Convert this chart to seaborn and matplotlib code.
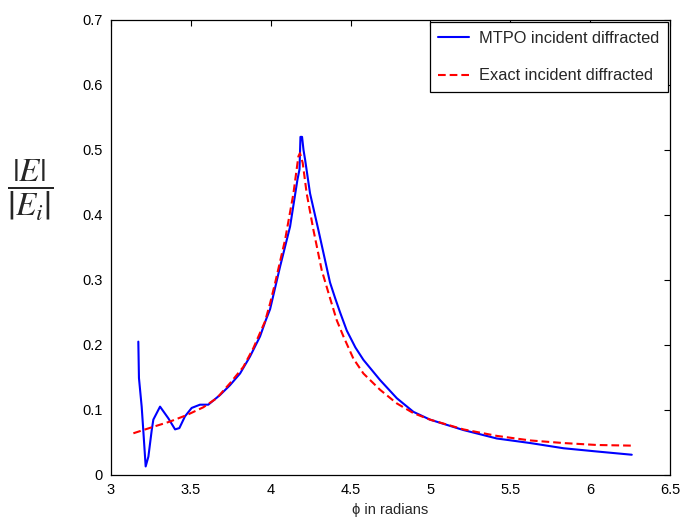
import numpy as np
import pandas as pd
import matplotlib
matplotlib.use("Agg")
import matplotlib.pyplot as plt
import seaborn as sns

# --- data (phi in radians, |E|/|Ei|) ---
mtpo_phi = [3.171, 3.175, 3.192, 3.202, 3.217, 3.234, 3.255, 3.265, 3.307, 3.359,
            3.401, 3.428, 3.463, 3.505, 3.557, 3.609, 3.683, 3.745, 3.808, 3.870,
            3.933, 3.969, 3.996, 4.058, 4.121, 4.167, 4.180, 4.186, 4.196, 4.205,
            4.215, 4.246, 4.298, 4.351, 4.371, 4.403, 4.434, 4.476, 4.530, 4.580,
            4.684, 4.789, 4.893, 4.997, 5.206, 5.415, 5.624, 5.832, 6.041, 6.260]
mtpo_val = [0.205, 0.149, 0.105, 0.069, 0.013, 0.028, 0.069, 0.085, 0.105, 0.087,
            0.070, 0.072, 0.090, 0.103, 0.108, 0.108, 0.123, 0.138, 0.156, 0.182,
            0.213, 0.238, 0.255, 0.320, 0.382, 0.454, 0.470, 0.520, 0.520, 0.500,
            0.485, 0.433, 0.377, 0.318, 0.296, 0.272, 0.250, 0.222, 0.196, 0.177,
            0.146, 0.118, 0.097, 0.085, 0.069, 0.056, 0.049, 0.041, 0.036, 0.031]

exact_phi = [3.140, 3.265, 3.369, 3.474, 3.578, 3.662, 3.745, 3.828, 3.891, 3.964,
             3.996, 4.027, 4.090, 4.142, 4.173, 4.183, 4.200, 4.225, 4.267, 4.319,
             4.371, 4.413, 4.455, 4.517, 4.580, 4.684, 4.789, 4.893, 4.997, 5.206,
             5.415, 5.624, 5.832, 6.041, 6.260]
exact_val = [0.064, 0.074, 0.082, 0.092, 0.104, 0.118, 0.141, 0.166, 0.195, 0.236,
             0.264, 0.295, 0.362, 0.433, 0.490, 0.495, 0.480, 0.433, 0.377, 0.315,
             0.272, 0.238, 0.213, 0.179, 0.156, 0.131, 0.110, 0.095, 0.085, 0.070,
             0.060, 0.053, 0.049, 0.046, 0.045]

xticks = [3, 3.5, 4, 4.5, 5, 5.5, 6, 6.5]
xtick_labels = ["3", "3.5", "4", "4.5", "5", "5.5", "6", "6.5"]
yticks = [0, 0.1, 0.2, 0.3, 0.4, 0.5, 0.6, 0.7]
ytick_labels = ["0", "0.1", "0.2", "0.3", "0.4", "0.5", "0.6", "0.7"]

df_mtpo = pd.DataFrame({"phi": mtpo_phi, "val": mtpo_val})
df_exact = pd.DataFrame({"phi": exact_phi, "val": exact_val})

sns.set_style("white")
plt.rcParams["font.family"] = ["Liberation Sans", "DejaVu Sans"]
plt.rcParams["mathtext.fontset"] = "stix"

fig = plt.figure(figsize=(6.81, 5.23), dpi=100)
ax = fig.add_axes([0.163, 0.092, 0.821, 0.870])

sns.lineplot(data=df_mtpo, x="phi", y="val", ax=ax, color="#0000ff", linewidth=1.5,
             estimator=None, sort=False, label="MTPO incident diffracted")
sns.lineplot(data=df_exact, x="phi", y="val", ax=ax, color="#ff0000", linewidth=1.5,
             estimator=None, sort=False, dashes=False, label="Exact incident diffracted")
ax.lines[1].set_dashes((3.7, 1.9))

ax.set_xlim(3, 6.5)
ax.set_ylim(0, 0.7)
ax.set_xticks(xticks)
ax.set_xticklabels(xtick_labels)
ax.set_yticks(yticks)
ax.set_yticklabels(ytick_labels)
ax.tick_params(direction="in", length=4, width=0.8, top=True, right=True,
               labelsize=10.5, pad=6, colors="black")
for s in ax.spines.values():
    s.set_color("black")
    s.set_linewidth(0.9)

ax.set_xlabel("\u03d5 in radians", fontsize=10.5, labelpad=4)
ax.set_ylabel("")
fig.text(30 / 681, 1 - 190 / 523, r"$\dfrac{\left|E\right|}{\left|E_i\right|}$",
         fontsize=24, ha="center", va="center")

leg = ax.legend(loc="upper right", fontsize=11.8, frameon=True, fancybox=False,
                framealpha=1, edgecolor="black", borderaxespad=0.15, borderpad=0.5,
                labelspacing=1.4, handlelength=1.9, handletextpad=0.6)
leg.get_frame().set_linewidth(0.9)

fig.savefig("out.png", dpi=100)
